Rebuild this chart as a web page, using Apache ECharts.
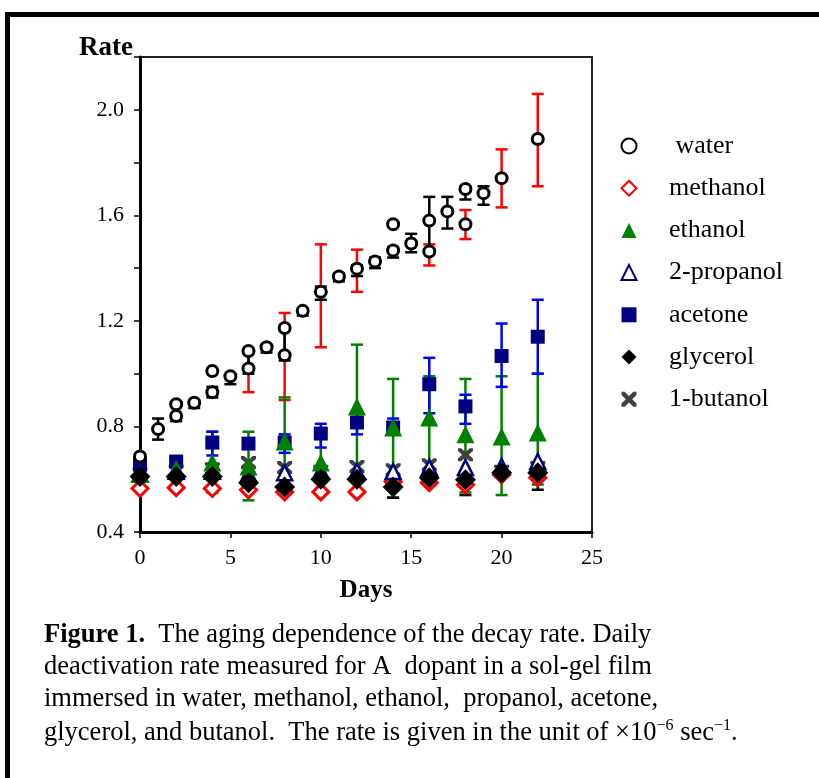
<!DOCTYPE html>
<html>
<head>
<meta charset="utf-8">
<script src="https://cdn.jsdelivr.net/npm/echarts@6/dist/echarts.min.js"></script>
<style>
  html, body { margin: 0; padding: 0; background: #fff; }
  #chart { width: 819px; height: 778px; }
</style>
</head>
<body>
<div id="chart"></div>
<script>
// ---------------- data ----------------
const seriesNames = [' water', 'methanol', 'ethanol', '2-propanol', 'acetone', 'glycerol', '1-butanol'];

const waterDays = [0, 1, 2, 2, 3, 4, 4, 5, 6, 6, 7, 8, 8, 9, 10, 11, 12, 13, 14, 14, 15, 16, 16, 17, 18, 18, 19, 20, 22];
const waterRate = [0.686, 0.79, 0.884, 0.84, 0.89, 1.01, 0.93, 0.99, 1.086, 1.02, 1.10, 1.173, 1.07, 1.238, 1.31, 1.368, 1.398, 1.425, 1.566, 1.467, 1.493, 1.58, 1.463, 1.615, 1.70, 1.566, 1.684, 1.741, 1.889];

const days = [0, 2, 4, 6, 8, 10, 12, 14, 16, 18, 20, 22];
const methanol = [0.565, 0.568, 0.565, 0.56, 0.552, 0.552, 0.552, 0.59, 0.587, 0.579, 0.617, 0.606];
const ethanol = [0.62, 0.64, 0.663, 0.648, 0.743, 0.663, 0.876, 0.796, 0.834, 0.77, 0.762, 0.777];
const propanol = [0.62, 0.63, 0.63, 0.62, 0.625, 0.63, 0.63, 0.629, 0.644, 0.644, 0.648, 0.667];
const acetone = [0.655, 0.667, 0.739, 0.735, 0.739, 0.773, 0.815, 0.796, 0.96, 0.876, 1.067, 1.14];
const glycerol = [0.61, 0.61, 0.61, 0.587, 0.571, 0.60, 0.60, 0.571, 0.606, 0.598, 0.625, 0.625];
const butanol = [0.62, 0.63, 0.64, 0.663, 0.644, 0.63, 0.648, 0.636, 0.655, 0.693, 0.63, 0.644];

// error bars: [day, low, high]
const waterErrBlack = [
  [1, 0.75, 0.83], [2, 0.82, 0.89], [3, 0.87, 0.90], [4, 0.91, 0.95], [5, 0.96, 0.99],
  [6, 1.00, 1.09], [7, 1.08, 1.11], [8, 1.05, 1.18], [9, 1.22, 1.24], [10, 1.28, 1.33],
  [11, 1.35, 1.38], [12, 1.37, 1.41], [13, 1.40, 1.44], [14, 1.44, 1.48], [15, 1.46, 1.53],
  [16, 1.47, 1.67], [17, 1.55, 1.67], [18, 1.66, 1.71], [19, 1.64, 1.71]
];
const waterErrRed = [
  [6, 0.93, 1.09], [8, 0.90, 1.23], [10, 1.10, 1.49], [12, 1.31, 1.47],
  [16, 1.41, 1.49], [18, 1.51, 1.62], [20, 1.63, 1.85], [22, 1.71, 2.06]
];
const ethanolErr = [
  [4, 0.62, 0.78], [6, 0.52, 0.78], [8, 0.60, 0.91], [10, 0.60, 0.77], [12, 0.62, 1.11],
  [14, 0.53, 0.98], [16, 0.62, 0.99], [18, 0.55, 0.98], [20, 0.54, 0.99], [22, 0.58, 1.00]
];
const acetoneErr = [
  [4, 0.69, 0.78], [8, 0.70, 0.77], [10, 0.72, 0.81], [12, 0.77, 0.86], [14, 0.77, 0.83],
  [16, 0.85, 1.06], [18, 0.81, 0.92], [20, 0.95, 1.19], [22, 1.00, 1.28]
];
const glycerolErr = [
  [4, 0.55, 0.62], [14, 0.53, 0.60], [18, 0.54, 0.62], [22, 0.56, 0.63]
];

const yTicks = { min: 0.4, max: 2.2, step: 0.2 };
const xTicks = { min: 0, max: 25, step: 5 };

// ---------------- chart ----------------
const FONT = '"Liberation Serif", "Times New Roman", serif';
const pair = (xs, ys) => xs.map((x, i) => [x, ys[i]]);
const xPath = 'path://M0,0 L3,0 L7,4 L11,0 L14,0 L14,3 L10,7 L14,11 L14,14 L11,14 L7,10 L3,14 L0,14 L0,11 L4,7 L0,3 Z';

function errSeries(data, color, z) {
  return {
    type: 'custom',
    data: data,
    encode: { x: 0, y: [1, 2] },
    z: z,
    silent: true,
    renderItem: function (params, api) {
      const x = api.value(0), lo = api.value(1), hi = api.value(2);
      const p1 = api.coord([x, hi]);
      const p2 = api.coord([x, lo]);
      const w = 6;
      const st = { stroke: color, lineWidth: 2.5 };
      return {
        type: 'group',
        children: [
          { type: 'line', shape: { x1: p1[0], y1: p1[1], x2: p2[0], y2: p2[1] }, style: st },
          { type: 'line', shape: { x1: p1[0] - w, y1: p1[1], x2: p1[0] + w, y2: p1[1] }, style: st },
          { type: 'line', shape: { x1: p2[0] - w, y1: p2[1], x2: p2[0] + w, y2: p2[1] }, style: st }
        ]
      };
    }
  };
}

const chart = echarts.init(document.getElementById('chart'), null, { renderer: 'canvas' });

const CAP = '26.5px ' + FONT;
const option = {
  backgroundColor: '#fff',
  animation: false,
  textStyle: { fontFamily: FONT },
  grid: {
    left: 140, right: 227, top: 57, bottom: 246,
    show: true, borderColor: '#222', borderWidth: 2, backgroundColor: 'transparent'
  },
  xAxis: {
    type: 'value',
    min: xTicks.min, max: xTicks.max, interval: xTicks.step,
    name: 'Days', nameLocation: 'middle', nameGap: 46,
    nameTextStyle: { fontFamily: FONT, fontSize: 25, fontWeight: 'bold', color: '#000' },
    axisLine: { show: true, lineStyle: { color: '#000', width: 3 } },
    axisTick: { show: true, inside: false, length: 6, lineStyle: { color: '#000', width: 1.5 } },
    axisLabel: { fontFamily: FONT, fontSize: 22, color: '#000', margin: 15 },
    splitLine: { show: false }
  },
  yAxis: {
    type: 'value',
    min: yTicks.min, max: yTicks.max, interval: yTicks.step,
    axisLine: { show: true, lineStyle: { color: '#000', width: 3 } },
    axisTick: { show: true, inside: false, length: 6, lineStyle: { color: '#000', width: 1.5 } },
    axisLabel: {
      fontFamily: FONT, fontSize: 22, color: '#000', margin: 16,
      formatter: function (v) {
        const k = Math.round(v * 10);
        return (k % 4 === 0 && k <= 20) ? (k / 10).toFixed(1) : '';
      }
    },
    splitLine: { show: false }
  },
  legend: {
    data: seriesNames,
    orient: 'vertical',
    left: 620.5, top: 133, padding: 0,
    itemWidth: 15, itemHeight: 15, itemGap: 16.2,
    textStyle: { fontFamily: FONT, fontSize: 26, color: '#000', lineHeight: 18, padding: [0, 0, 0, 27.5] },
    selectedMode: false
  },
  graphic: [
    { type: 'polyline', shape: { points: [[7.5, 778], [7.5, 14.5], [819, 14.5]] }, style: { stroke: '#000', lineWidth: 5, fill: null } },
    { type: 'text', left: 79, top: 35, style: { text: 'Rate', font: 'bold 27px ' + FONT, fill: '#000' } },
    { type: 'text', left: 44, top: 622, style: {
        text: '{b|Figure 1.}  The aging dependence of the decay rate. Daily',
        font: CAP, fill: '#000',
        rich: { b: { font: 'bold 26.5px ' + FONT, fill: '#000' } } } },
    { type: 'text', left: 44, top: 654, style: { text: 'deactivation rate measured for A  dopant in a sol-gel film', font: CAP, fill: '#000' } },
    { type: 'text', left: 44, top: 686, style: { text: 'immersed in water, methanol, ethanol,  propanol, acetone,', font: CAP, fill: '#000' } },
    { type: 'text', left: 44, top: 718, style: {
        text: 'glycerol, and butanol.  The rate is given in the unit of \u00d710{s|\u22126} sec{s|\u22121}.',
        font: CAP, fill: '#000',
        rich: { s: { font: '16px ' + FONT, fill: '#000', verticalAlign: 'top', lineHeight: 30 } } } }
  ],
  series: [
    errSeries(waterErrRed, '#ff0000', 1),
    errSeries(waterErrBlack, '#000000', 1),
    errSeries(ethanolErr, '#008000', 1),
    errSeries(acetoneErr, '#0000ff', 1),
    errSeries(glycerolErr, '#000000', 1),
    {
      name: ' water', type: 'scatter', z: 5, data: pair(waterDays, waterRate),
      symbol: 'circle', symbolSize: 11,
      itemStyle: { color: '#fff', borderColor: '#000', borderWidth: 3, opacity: 1 }
    },
    {
      name: 'methanol', type: 'scatter', z: 3, data: pair(days, methanol),
      symbol: 'diamond', symbolSize: 16,
      itemStyle: { color: '#fff', borderColor: '#ff0000', borderWidth: 3, opacity: 1 }
    },
    {
      name: 'ethanol', type: 'scatter', z: 4, data: pair(days, ethanol),
      symbol: 'triangle', symbolSize: 18,
      itemStyle: { color: '#008000', opacity: 1 }
    },
    {
      name: '2-propanol', type: 'scatter', z: 3, data: pair(days, propanol),
      symbol: 'triangle', symbolSize: 15,
      itemStyle: { color: '#fff', borderColor: '#000080', borderWidth: 2.5, opacity: 1 }
    },
    {
      name: 'acetone', type: 'scatter', z: 3, data: pair(days, acetone),
      symbol: 'rect', symbolSize: 14,
      itemStyle: { color: '#000080', opacity: 1 }
    },
    {
      name: 'glycerol', type: 'scatter', z: 4, data: pair(days, glycerol),
      symbol: 'diamond', symbolSize: 21,
      itemStyle: { color: '#000', opacity: 1 }
    },
    {
      name: '1-butanol', type: 'scatter', z: 2, data: pair(days, butanol),
      symbol: xPath, symbolSize: [15, 13],
      itemStyle: { color: '#404040', opacity: 1 }
    }
  ]
};

chart.setOption(option);
</script>
</body>
</html>
